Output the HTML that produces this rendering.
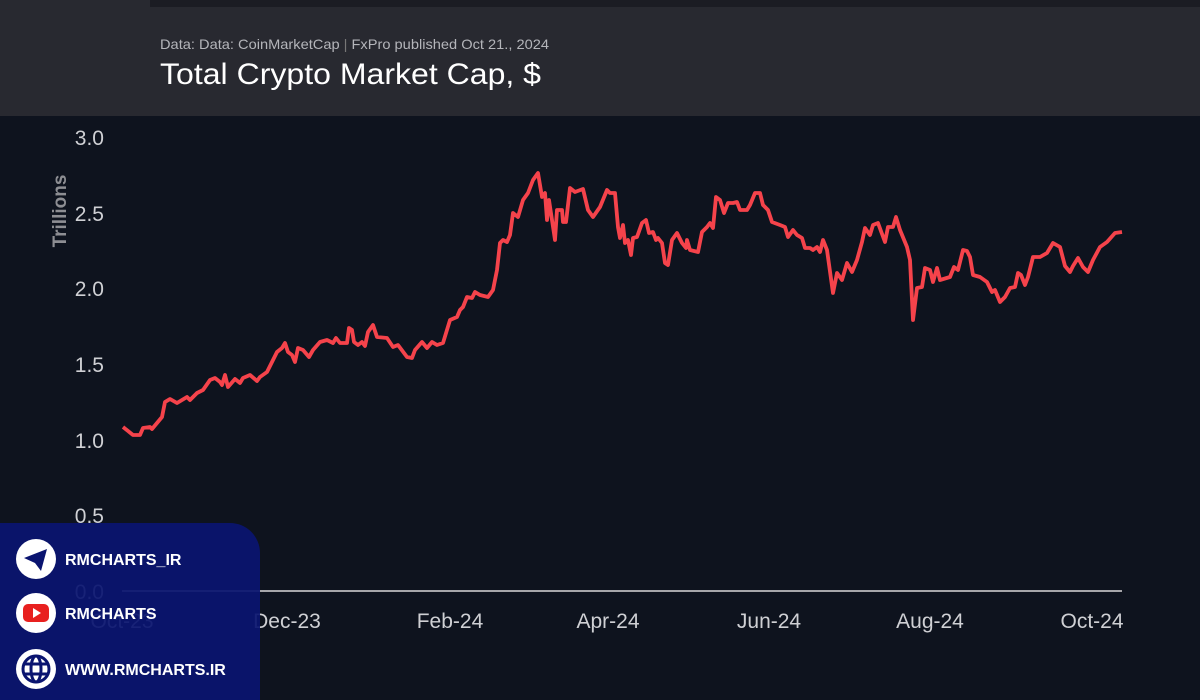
<!DOCTYPE html>
<html><head><meta charset="utf-8"><style>
html,body{margin:0;padding:0;width:1200px;height:700px;overflow:hidden;background:#0e131e;font-family:"Liberation Sans",sans-serif}
</style></head><body>
<svg width="1200" height="700" xmlns="http://www.w3.org/2000/svg" style="position:absolute;left:0;top:0">
<rect x="0" y="0" width="1200" height="700" fill="#0e131e"/>
<rect x="0" y="0" width="1200" height="116" fill="#282930"/>
<rect x="150" y="0" width="1050" height="7" fill="#1b1c23"/>
<text x="160" y="49" font-size="14" fill="#b4b5ba" textLength="389" lengthAdjust="spacingAndGlyphs">Data: Data: CoinMarketCap <tspan fill="#777">|</tspan> FxPro published Oct 21., 2024</text>
<text x="160" y="84" font-size="30" fill="#ffffff" textLength="381" lengthAdjust="spacingAndGlyphs">Total Crypto Market Cap, $</text>
<g font-size="21" fill="#cfd0d4" text-anchor="end">
<text x="104" y="145">3.0</text><text x="104" y="221">2.5</text><text x="104" y="296">2.0</text>
<text x="104" y="372">1.5</text><text x="104" y="448">1.0</text><text x="104" y="523">0.5</text><text x="104" y="599">0.0</text>
</g>
<text transform="translate(66,211) rotate(-90)" font-size="19" font-weight="bold" fill="#8d8e93" text-anchor="middle">Trillions</text>
<line x1="122" y1="591" x2="1122" y2="591" stroke="#d8d8d8" stroke-width="1.5"/>
<g font-size="21" fill="#cfd0d4" text-anchor="middle">
<text x="122" y="628">Oct-23</text><text x="287" y="628">Dec-23</text><text x="450" y="628">Feb-24</text>
<text x="608" y="628">Apr-24</text><text x="769" y="628">Jun-24</text><text x="930" y="628">Aug-24</text><text x="1092" y="628">Oct-24</text>
</g>
<polyline fill="none" stroke="#f5434b" stroke-width="3.8" stroke-linejoin="round" points="123,427 133,435 140,435 143,428 150,427 152,429 162,417 165,402 170,399 177,403 187,397 190,400 197,393 203,390 210,380 215,378 220,382 222,385 225,375 228,387 235,379 240,383 243,378 250,375 257,381 260,377 267,372 273,360 277,352 282,348 285,343 288,352 292,355 295,362 298,348 303,350 309,357 313,350 320,342 327,340 333,343 336,338 340,343 347,343 349,328 352,330 354,342 358,345 362,342 365,346 368,332 373,325 377,337 387,338 393,347 398,345 407,357 412,358 415,350 422,342 427,348 432,342 437,345 443,343 450,320 457,317 460,310 463,307 467,297 472,298 475,292 480,295 488,297 493,290 497,270 500,243 503,240 507,242 510,235 513,213 518,217 523,200 528,193 533,180 538,173 542,197 545,193 547,220 549,200 555,240 557,210 562,210 563,222 566,222 570,188 575,192 583,189 588,210 593,217 600,207 607,190 610,193 615,193 618,227 620,238 623,225 625,243 628,240 631,255 633,238 637,237 642,223 646,220 649,233 653,232 656,240 658,238 662,243 665,263 668,265 672,240 677,233 682,243 686,248 687,240 690,250 698,252 702,232 707,227 710,223 713,228 716,197 720,200 724,213 728,203 733,203 737,202 740,210 747,210 750,205 755,193 760,193 763,205 768,210 772,222 780,225 785,227 788,237 793,230 797,235 802,238 805,248 810,248 813,250 817,247 820,252 823,240 827,250 833,293 837,273 842,280 847,263 852,272 857,260 862,242 865,228 870,235 873,225 878,223 885,242 888,227 893,227 896,217 900,230 907,247 910,260 913,320 917,288 922,287 925,268 930,270 933,282 937,268 940,280 950,277 954,267 958,270 963,250 967,251 970,257 973,275 980,277 987,282 992,292 995,290 1000,302 1005,297 1010,288 1015,287 1018,273 1021,275 1025,285 1028,277 1033,257 1040,257 1047,253 1053,243 1060,247 1065,266 1070,272 1073,266 1078,258 1083,267 1088,272 1093,260 1100,247 1107,242 1115,233 1122,232"/>
<path d="M0,523 H230 A30,30 0 0 1 260,553 V700 H0 Z" fill="#0a1470" fill-opacity="0.93"/>
<circle cx="36" cy="559" r="20" fill="#fff"/>
<path d="M24,558 L47,549 L41,571 L35,563 Z" fill="#0a1470"/>
<circle cx="36" cy="613" r="20" fill="#fff"/>
<rect x="23" y="604" width="26" height="18" rx="5" fill="#e8201f"/>
<path d="M33,608 L41,613 L33,618 Z" fill="#fff"/>
<circle cx="36" cy="669" r="20" fill="#fff"/>
<g fill="none" stroke="#0a1470" stroke-width="3"><circle cx="36" cy="669" r="13"/><ellipse cx="36" cy="669" rx="5" ry="13"/><line x1="23" y1="664" x2="49" y2="664"/><line x1="23" y1="674" x2="49" y2="674"/></g>
<g font-size="16" font-weight="bold" fill="#fff">
<text x="65" y="565">RMCHARTS_IR</text><text x="65" y="619">RMCHARTS</text><text x="65" y="675">WWW.RMCHARTS.IR</text>
</g>
</svg>
</body></html>
